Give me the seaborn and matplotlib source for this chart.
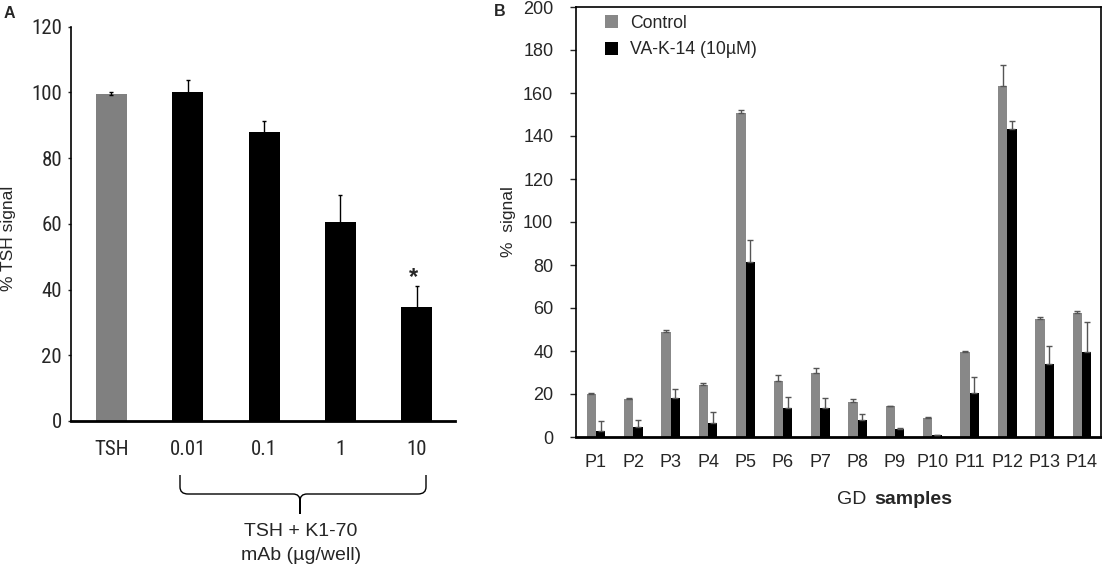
import numpy as np
import pandas as pd
import seaborn as sns
import matplotlib.pyplot as plt
from matplotlib.path import Path
from matplotlib.patches import PathPatch

# Panel A: TSH signal with K1-70 mAb
a_labels = ["TSH", "0.01", "0.1", "1", "10"]
a_values = [99.6, 100.2, 87.9, 60.7, 34.8]
a_err = [0.5, 3.7, 3.3, 8.1, 6.3]
a_star_y = 41.7

# Panel B: GD samples, control vs VA-K-14
samples = ["P1", "P2", "P3", "P4", "P5", "P6", "P7", "P8", "P9", "P10", "P11", "P12", "P13", "P14"]
control = [20.2, 17.7, 48.7, 24.4, 150.9, 26.1, 29.7, 16.4, 14.2, 8.9, 39.7, 163.3, 54.8, 57.7]
control_err = [0.3, 0.3, 1.0, 0.8, 1.1, 2.8, 2.3, 1.4, 0.3, 0.5, 0.3, 9.8, 0.8, 0.9]
vak14 = [3.0, 4.8, 18.1, 6.7, 81.6, 13.4, 13.3, 8.0, 3.8, 0.9, 20.5, 143.4, 33.9, 39.5]
vak14_err = [4.3, 2.9, 4.1, 4.7, 10.1, 5.2, 5.0, 2.6, 0.4, 0.2, 7.6, 3.6, 8.4, 14.1]
groups = ["Control", "VA-K-14 (10\u00b5M)"]

sns.set_theme(style="white")
plt.rcParams["font.family"] = ["Liberation Sans", "DejaVu Sans"]
narrow = ["Liberation Sans Narrow", "Roboto Condensed", "DejaVu Sans Condensed", "Liberation Sans"]

W, H = 1102, 566
fig = plt.figure(figsize=(W / 100, H / 100), dpi=100)
axA = fig.add_axes([71 / W, 1 - 421 / H, 384 / W, 394.3 / H])
axB = fig.add_axes([576 / W, 1 - 437 / H, 525 / W, 430 / H])

# ---- panel A
dfA = pd.DataFrame({"cond": a_labels, "value": a_values})
sns.barplot(data=dfA, x="cond", y="value", hue="cond", legend=False,
            palette=["#808080"] + ["#000000"] * 4, width=0.405, saturation=1,
            errorbar=None, linewidth=0, ax=axA)
xs = [b.get_x() + b.get_width() / 2 for b in axA.patches]
axA.errorbar(xs, a_values, yerr=a_err, fmt="none", ecolor="black",
             elinewidth=1, capsize=1.2, capthick=1, zorder=3)
axA.text(xs[-1] - 0.04, a_star_y, "*", ha="center", va="baseline",
         fontsize=17, fontweight="bold")
axA.set_xlim(-0.53, 4.5)
axA.set_ylim(0, 120)
axA.set_yticks(range(0, 121, 20))
axA.set_xlabel("")
axA.set_ylabel("")
for s in ["top", "right"]:
    axA.spines[s].set_visible(False)
axA.spines["left"].set_linewidth(1.2)
axA.spines["bottom"].set_linewidth(2)
for s in axA.spines.values():
    s.set_color("black")
axA.tick_params(axis="y", length=2.2, width=1, pad=4.3, labelsize=15, direction="out", left=True)
axA.tick_params(axis="x", length=0, pad=14, labelsize=15)
for lab in axA.get_xticklabels() + axA.get_yticklabels():
    lab.set_family(narrow)

fig.text(9 / W, 1 - 238 / H, "% TSH signal", rotation=90, ha="center", va="center", fontsize=12.5)
fig.text(9 / W, 1 - 13 / H, "A", ha="center", va="center", fontsize=11.5, fontweight="bold")

# brace under the mAb doses
def px(x, y):
    return (x / W, 1 - y / H)

verts = [px(180, 475), px(180, 487), px(180, 494), px(188, 494), px(293, 494),
         px(300, 494), px(300, 501), px(300, 514), px(300, 501), px(300, 494),
         px(307, 494), px(418, 494), px(426, 494), px(426, 487), px(426, 475)]
codes = [Path.MOVETO, Path.LINETO, Path.CURVE3, Path.CURVE3, Path.LINETO,
         Path.CURVE3, Path.CURVE3, Path.LINETO, Path.LINETO, Path.CURVE3,
         Path.CURVE3, Path.LINETO, Path.CURVE3, Path.CURVE3, Path.LINETO]
fig.add_artist(PathPatch(Path(verts, codes), transform=fig.transFigure,
                         fill=False, edgecolor="black", linewidth=1))
fig.text(301 / W, 1 - 532 / H, "TSH + K1-70", ha="center", va="center", fontsize=14)
fig.text(301 / W, 1 - 556 / H, "mAb (\u00b5g/well)", ha="center", va="center", fontsize=14)

# ---- panel B
dfB = pd.DataFrame({
    "sample": samples * 2,
    "group": [groups[0]] * len(samples) + [groups[1]] * len(samples),
    "value": control + vak14,
})
sns.barplot(data=dfB, x="sample", y="value", hue="group", palette=["#888888", "#000000"],
            width=0.5, saturation=1, errorbar=None, linewidth=0, ax=axB)
for cont, vals, errs in zip(axB.containers, [control, vak14], [control_err, vak14_err]):
    bx = [b.get_x() + b.get_width() / 2 for b in cont]
    axB.errorbar(bx, vals, yerr=[np.zeros(len(errs)), errs], fmt="none", ecolor="#555555",
                 elinewidth=1, capsize=2.5, capthick=1, zorder=3)
axB.set_xlim(-0.535, 13.51)
axB.set_ylim(0, 200)
axB.set_yticks(range(0, 201, 20))
axB.set_xlabel("")
axB.set_ylabel("")
for s in axB.spines.values():
    s.set_color("black")
    s.set_linewidth(1.2)
axB.spines["bottom"].set_linewidth(2)
axB.tick_params(axis="y", length=4.3, width=1, pad=12, labelsize=13, direction="out", left=True)
axB.tick_params(axis="x", length=0, pad=12, labelsize=13)

handles, labels = axB.get_legend_handles_labels()
axB.legend(handles, labels, loc="upper left", bbox_to_anchor=(0.055, 0.982), frameon=False,
           fontsize=12.7, handlelength=0.75, handleheight=0.75, handletextpad=0.7,
           labelspacing=0.55, borderpad=0, borderaxespad=0)

fig.text(508 / W, 1 - 222 / H, "%  signal", rotation=90, ha="center", va="center", fontsize=12.5)
fig.text(500 / W, 1 - 12 / H, "B", ha="center", va="center", fontsize=11.5, fontweight="bold")
fig.text(872 / W, 1 - 500 / H, "GD ", ha="right", va="center", fontsize=14)
fig.text(874 / W, 1 - 500 / H, "samples", ha="left", va="center", fontsize=14, fontweight="bold")

fig.savefig("out.png", dpi=100)
